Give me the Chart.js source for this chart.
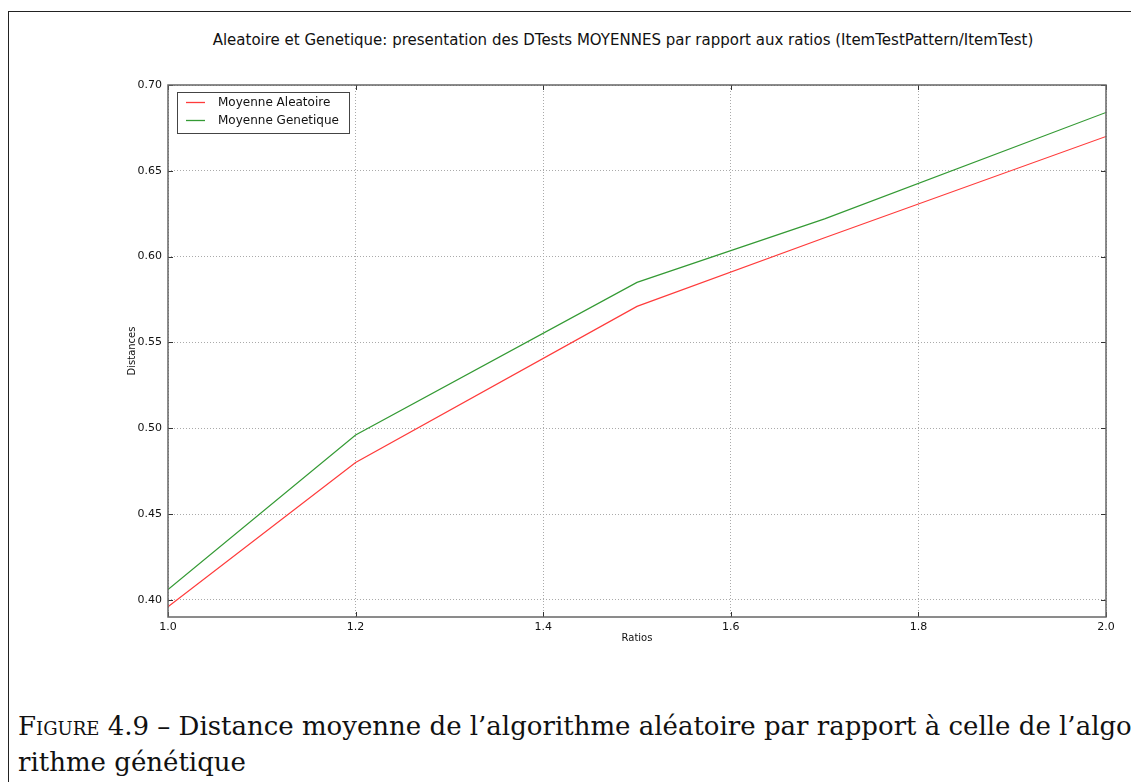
<!DOCTYPE html>
<html>
<head>
<meta charset="utf-8">
<script src="https://cdn.jsdelivr.net/npm/chart.js@4"></script>
<style>
  html, body { margin: 0; padding: 0; background: #fff; }
  body { width: 1131px; height: 782px; position: relative; overflow: hidden; }
  #frame {
    position: absolute; left: 8px; top: 11px; width: 1200px; height: 800px;
    border-left: 1.5px solid #222; border-top: 1.5px solid #222;
  }
  #wrap { position: absolute; left: 0; top: 0; width: 1131px; height: 660px; }
  #title {
    position: absolute; top: 31px; left: 123px; width: 1000px; text-align: center;
    font: 15px "DejaVu Sans", sans-serif; color: #111; white-space: nowrap;
  }
  #caption {
    position: absolute; left: 18px; top: 708px; width: 1180px;
    font: 26px/36px "DejaVu Serif", serif; color: #111; white-space: nowrap;
  }
  #caption .sc { font-variant: small-caps; }
</style>
</head>
<body>
<div id="frame"></div>
<div id="title">Aleatoire et Genetique: presentation des DTests MOYENNES par rapport aux ratios (ItemTestPattern/ItemTest)</div>
<div id="wrap"><canvas id="chart" width="1131" height="660"></canvas></div>
<div id="caption"><span class="sc">Figure</span> 4.9 – Distance moyenne de l’algorithme aléatoire par rapport à celle de l’algo-<br>rithme génétique</div>
<script>
// data
const ratios = [1.0, 1.2, 1.5, 1.7, 2.0];
const moyenneAleatoire = [0.396, 0.480, 0.571, 0.611, 0.670];
const moyenneGenetique = [0.406, 0.496, 0.585, 0.622, 0.684];
const xTicks = [1.0, 1.2, 1.4, 1.6, 1.8, 2.0];
const yTicks = [0.40, 0.45, 0.50, 0.55, 0.60, 0.65, 0.70];

const toPoints = (ys) => ratios.map((x, i) => ({ x: x, y: ys[i] }));

// inward ticks on all four sides, matplotlib classic look
const innerTicks = {
  id: 'innerTicks',
  afterDraw(chart) {
    const { ctx, chartArea: a, scales } = chart;
    ctx.save();
    ctx.strokeStyle = '#333';
    ctx.lineWidth = 1;
    ctx.beginPath();
    xTicks.forEach(v => {
      const px = Math.round(scales.x.getPixelForValue(v)) + 0.5;
      ctx.moveTo(px, a.bottom); ctx.lineTo(px, a.bottom - 5);
      ctx.moveTo(px, a.top); ctx.lineTo(px, a.top + 5);
    });
    yTicks.forEach(v => {
      const py = Math.round(scales.y.getPixelForValue(v)) + 0.5;
      ctx.moveTo(a.left, py); ctx.lineTo(a.left + 5, py);
      ctx.moveTo(a.right, py); ctx.lineTo(a.right - 5, py);
    });
    ctx.stroke();
    // axes box
    ctx.strokeStyle = '#666';
    ctx.lineWidth = 1.5;
    ctx.strokeRect(a.left, a.top, a.right - a.left, a.bottom - a.top);
    ctx.restore();
  }
};

// legend box in the upper left of the axes
const boxLegend = {
  id: 'boxLegend',
  afterDraw(chart) {
    const { ctx, chartArea: a } = chart;
    const x0 = a.left + 9, y0 = a.top + 7;
    const w = 172, h = 41;
    ctx.save();
    ctx.fillStyle = '#fff';
    ctx.fillRect(x0, y0, w, h);
    ctx.strokeStyle = '#444';
    ctx.lineWidth = 1;
    ctx.strokeRect(x0 + 0.5, y0 + 0.5, w, h);
    ctx.font = '12px "DejaVu Sans", sans-serif';
    ctx.textBaseline = 'middle';
    chart.data.datasets.forEach((ds, i) => {
      const cy = y0 + 10.5 + i * 18;
      ctx.strokeStyle = ds.borderColor;
      ctx.lineWidth = 1.3;
      ctx.beginPath();
      ctx.moveTo(x0 + 9, cy);
      ctx.lineTo(x0 + 28, cy);
      ctx.stroke();
      ctx.fillStyle = '#111';
      ctx.fillText(ds.label, x0 + 41, cy);
    });
    ctx.restore();
  }
};

new Chart(document.getElementById('chart'), {
  type: 'line',
  data: {
    datasets: [
      {
        label: 'Moyenne Aleatoire',
        data: toPoints(moyenneAleatoire),
        borderColor: '#ff3b3b',
        borderWidth: 1.2,
        pointRadius: 0,
        tension: 0
      },
      {
        label: 'Moyenne Genetique',
        data: toPoints(moyenneGenetique),
        borderColor: '#349a34',
        borderWidth: 1.2,
        pointRadius: 0,
        tension: 0
      }
    ]
  },
  options: {
    responsive: false,
    animation: false,
    layout: { padding: { left: 0, top: 85, right: 25, bottom: 0 } },
    plugins: {
      legend: { display: false },
      title: { display: false },
      tooltip: { enabled: false }
    },
    scales: {
      x: {
        type: 'linear',
        min: 1.0,
        max: 2.0,
        afterFit(scale) { scale.height = 43; },
        afterBuildTicks(scale) { scale.ticks = xTicks.map(v => ({ value: v })); },
        border: { display: false, dash: [1, 2] },
        grid: {
          color: '#aaa',
          lineWidth: 1,
          drawTicks: false
        },
        ticks: {
          color: '#111',
          font: { family: 'DejaVu Sans', size: 11 },
          padding: 4,
          maxRotation: 0,
          callback: v => v.toFixed(1)
        },
        title: {
          display: true,
          text: 'Ratios',
          color: '#111',
          font: { family: 'DejaVu Sans', size: 10 },
          padding: { top: 0, bottom: 16 }
        }
      },
      y: {
        min: 0.39,
        max: 0.70,
        afterFit(scale) { scale.width = 168; },
        afterBuildTicks(scale) { scale.ticks = yTicks.map(v => ({ value: v })); },
        border: { display: false, dash: [1, 2] },
        grid: {
          color: '#aaa',
          lineWidth: 1,
          drawTicks: false
        },
        ticks: {
          color: '#111',
          font: { family: 'DejaVu Sans', size: 11 },
          padding: 6,
          callback: v => v.toFixed(2)
        },
        title: {
          display: true,
          text: 'Distances',
          color: '#111',
          font: { family: 'DejaVu Sans', size: 10 },
          padding: { top: 126, bottom: 0 }
        }
      }
    }
  },
  plugins: [innerTicks, boxLegend]
});
</script>
</body>
</html>
